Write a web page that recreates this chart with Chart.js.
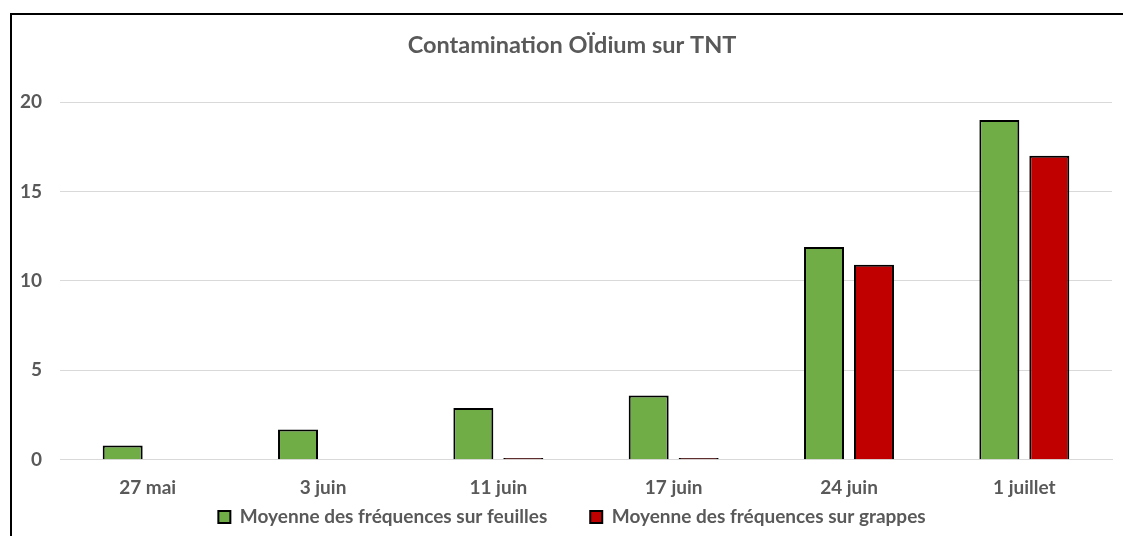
<!DOCTYPE html>
<html>
<head>
<meta charset="utf-8">
<script src="https://cdn.jsdelivr.net/npm/chart.js@4.4.0/dist/chart.umd.min.js"></script>
<style>
  html, body { margin:0; padding:0; background:#fff; overflow:hidden; width:1123px; height:536px; }
  #frame { position:absolute; left:10px; top:13px; width:1130px; height:540px; border-top:2px solid #000; border-left:2px solid #000; }
  #wrap { position:absolute; left:0; top:0; width:1120px; height:521px; }
</style>
</head>
<body>
<div id="frame"><div id="wrap"><canvas id="c"></canvas></div></div>
<script>
const categories = ["27 mai", "3 juin", "11 juin", "17 juin", "24 juin", "1 juillet"];
const feuilles = [0.8, 1.7, 2.9, 3.6, 11.9, 19.0];
const grappes = [0, 0, 0.1, 0.1, 10.9, 17.0];
const seriesNames = ["Moyenne des fréquences sur feuilles", "Moyenne des fréquences sur grappes"];
const titleText = "Contamination OÏdium sur TNT";

const gray = "#595959";
const fontFam = "Lato, 'Open Sans', sans-serif";

new Chart(document.getElementById("c"), {
  type: "bar",
  data: {
    labels: categories,
    datasets: [
      { label: seriesNames[0], data: feuilles, backgroundColor: "#70AD47", borderColor: "#000", borderWidth: 2, categoryPercentage: 0.57, barPercentage: 0.8 },
      { label: seriesNames[1], data: grappes, backgroundColor: "#C00000", borderColor: "#000", borderWidth: 2, categoryPercentage: 0.57, barPercentage: 0.8 }
    ]
  },
  options: {
    responsive: true,
    maintainAspectRatio: false,
    animation: false,
    layout: { padding: { left: 0, right: 0, top: 0, bottom: -0.4 } },
    plugins: {
      title: { display: true, text: titleText, color: gray, font: { family: fontFam, size: 23.5, weight: "bold" }, padding: { top: 16, bottom: 42.8 } },
      legend: {
        position: "bottom",
        labels: {
          color: gray, font: { family: fontFam, size: 19, weight: "bold" }, boxWidth: 12, boxHeight: 12, padding: 5,
          generateLabels: (chart) => {
            const items = Chart.defaults.plugins.legend.labels.generateLabels(chart);
            items[0].text = items[0].text + "\u2002\u2002\u2002\u2002";
            return items;
          }
        }
      },
      tooltip: { enabled: false }
    },
    scales: {
      x: {
        afterFit: (s) => { s.height = 42.6; },
        grid: { display: false, drawTicks: false },
        border: { color: "#D9D9D9" },
        ticks: { color: gray, font: { family: fontFam, size: 19, weight: "bold" }, padding: 17 }
      },
      y: {
        min: 0, max: 20,
        afterFit: (s) => { s.width = 48; },
        grid: { color: "#D9D9D9", drawTicks: false },
        border: { display: false },
        ticks: { stepSize: 5, color: gray, font: { family: fontFam, size: 19, weight: "bold" }, padding: 18 }
      },
      y2: {
        position: "right",
        afterFit: (s) => { s.width = 20; },
        grid: { display: false, drawTicks: false },
        border: { display: false },
        ticks: { display: false }
      }
    }
  }
});
</script>
</body>
</html>
